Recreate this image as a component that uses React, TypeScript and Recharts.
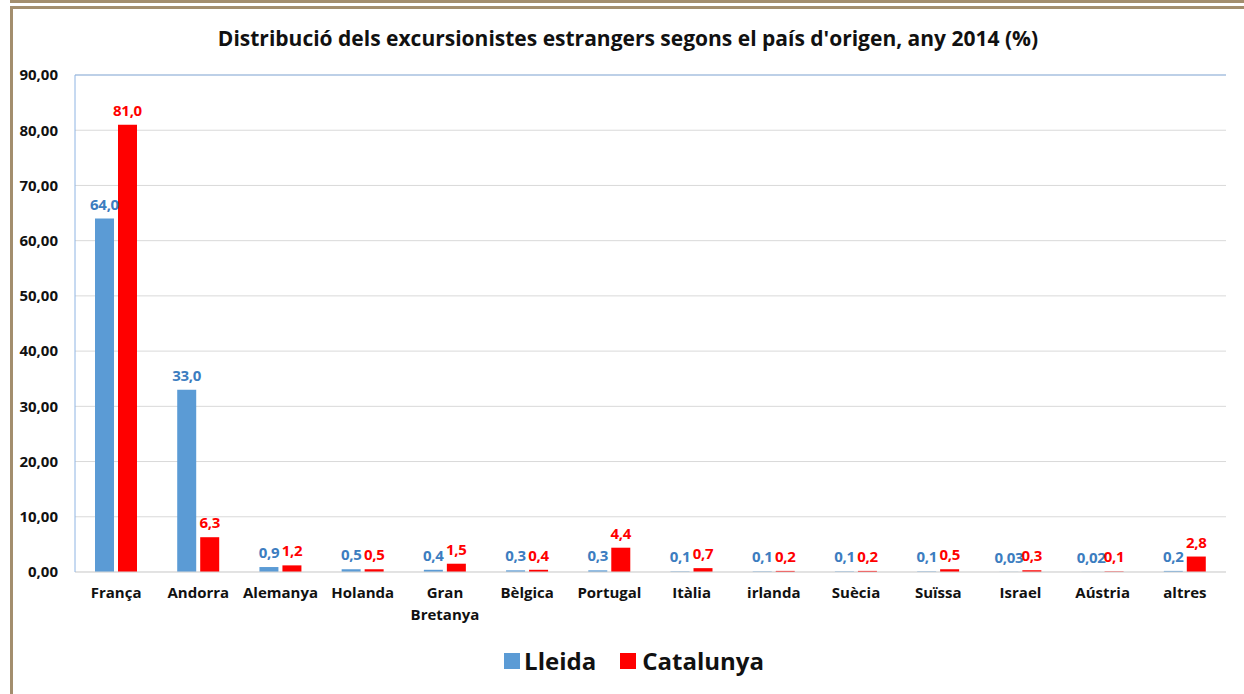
import React from 'react';
import {
  BarChart,
  Bar,
  XAxis,
  YAxis,
  CartesianGrid,
  ReferenceLine,
  LabelList,
} from 'recharts';

const countries = [
  'França', 'Andorra', 'Alemanya', 'Holanda', 'Gran Bretanya', 'Bèlgica', 'Portugal',
  'Itàlia', 'irlanda', 'Suècia', 'Suïssa', 'Israel', 'Aústria', 'altres',
];
const lleida = [64.0, 33.0, 0.9, 0.5, 0.4, 0.3, 0.3, 0.1, 0.1, 0.1, 0.1, 0.03, 0.02, 0.2];
const catalunya = [81.0, 6.3, 1.2, 0.5, 1.5, 0.4, 4.4, 0.7, 0.2, 0.2, 0.5, 0.3, 0.1, 2.8];
const yTicks = [0, 10, 20, 30, 40, 50, 60, 70, 80, 90];

const data = countries.map((c, i) => ({ country: c, lleida: lleida[i], catalunya: catalunya[i] }));

const FONT = '"Open Sans", Lato, sans-serif';
const FRAME = '#A38E6E';
const BLUE = '#5B9BD5';
const BLUE_TEXT = '#3C7DC0';
const RED = '#FF0000';

const fmtLabel = (v: any) => {
  const n = Number(v);
  return n.toFixed(n < 0.1 ? 2 : 1).replace('.', ',');
};

const CountryTick = (props: any) => {
  const { x, y, payload } = props;
  const words: string[] = payload.value.length > 10 ? payload.value.split(' ') : [payload.value];
  return (
    <text x={x} y={y} textAnchor="middle" fontFamily={FONT} fontWeight={700} fontSize={15} fill="#111">
      {words.map((w, i) => (
        <tspan key={i} x={x} dy={i === 0 ? 18 : 22}>{w}</tspan>
      ))}
    </text>
  );
};

export default function App() {
  return (
    <div style={{ position: 'absolute', left: 0, top: 0, width: 1244, height: 694, background: '#fff', overflow: 'hidden' }}>
      <div style={{ position: 'absolute', left: 10, right: 0, top: 0, height: 3, background: FRAME }} />
      <div style={{ position: 'absolute', left: 10, top: 6, width: 1240, height: 700, borderLeft: `3px solid ${FRAME}`, borderTop: `3px solid ${FRAME}`, boxSizing: 'border-box' }} />
      <div style={{ position: 'absolute', left: 0, width: 1256, top: 24, textAlign: 'center', fontFamily: FONT, fontWeight: 700, fontSize: 21, color: '#111' }}>
        Distribució dels excursionistes estrangers segons el país d'origen, any 2014 (%)
      </div>
      <div style={{ position: 'absolute', left: 0, top: 0 }}>
        <BarChart
          width={1244}
          height={694}
          data={data}
          margin={{ top: 75, right: 18, bottom: 72, left: 0 }}
          barGap={4}
          barSize={19}
        >
          <CartesianGrid vertical={false} stroke="#D9D9D9" />
          <XAxis
            dataKey="country"
            axisLine={{ stroke: '#D9D9D9' }}
            tickLine={false}
            height={50}
            interval={0}
            tick={<CountryTick />}
          />
          <YAxis
            width={75}
            domain={[0, 90]}
            ticks={yTicks}
            axisLine={{ stroke: '#8EB4E3' }}
            tickLine={false}
            tickMargin={11}
            tickFormatter={(v: number) => v.toFixed(2).replace('.', ',')}
            tick={{ fontFamily: FONT, fontWeight: 700, fontSize: 15, fill: '#111' }}
          />
          <YAxis yAxisId="right" orientation="right" width={0} tick={false} tickLine={false} axisLine={{ stroke: '#8EB4E3' }} />
          <ReferenceLine y={90} stroke="#8EB4E3" />
          <Bar dataKey="lleida" fill={BLUE} isAnimationActive={false}>
            <LabelList
              dataKey="lleida"
              position="top"
              offset={9}
              formatter={fmtLabel}
              style={{ fontFamily: FONT, fontWeight: 700, fontSize: 15, fill: BLUE_TEXT, letterSpacing: -0.3 }}
            />
          </Bar>
          <Bar dataKey="catalunya" fill={RED} isAnimationActive={false}>
            <LabelList
              dataKey="catalunya"
              position="top"
              offset={9}
              formatter={fmtLabel}
              style={{ fontFamily: FONT, fontWeight: 700, fontSize: 15, fill: RED, letterSpacing: -0.3 }}
            />
          </Bar>
        </BarChart>
      </div>
      <div style={{ position: 'absolute', left: 0, width: 1268, top: 644, display: 'flex', justifyContent: 'center', alignItems: 'center', fontFamily: FONT, fontWeight: 700, fontSize: 24, color: '#111' }}>
        <span style={{ display: 'inline-block', width: 16, height: 16, background: BLUE, marginRight: 4 }} />
        <span style={{ marginRight: 24 }}>Lleida</span>
        <span style={{ display: 'inline-block', width: 16, height: 16, background: RED, marginRight: 6 }} />
        <span>Catalunya</span>
      </div>
    </div>
  );
}
